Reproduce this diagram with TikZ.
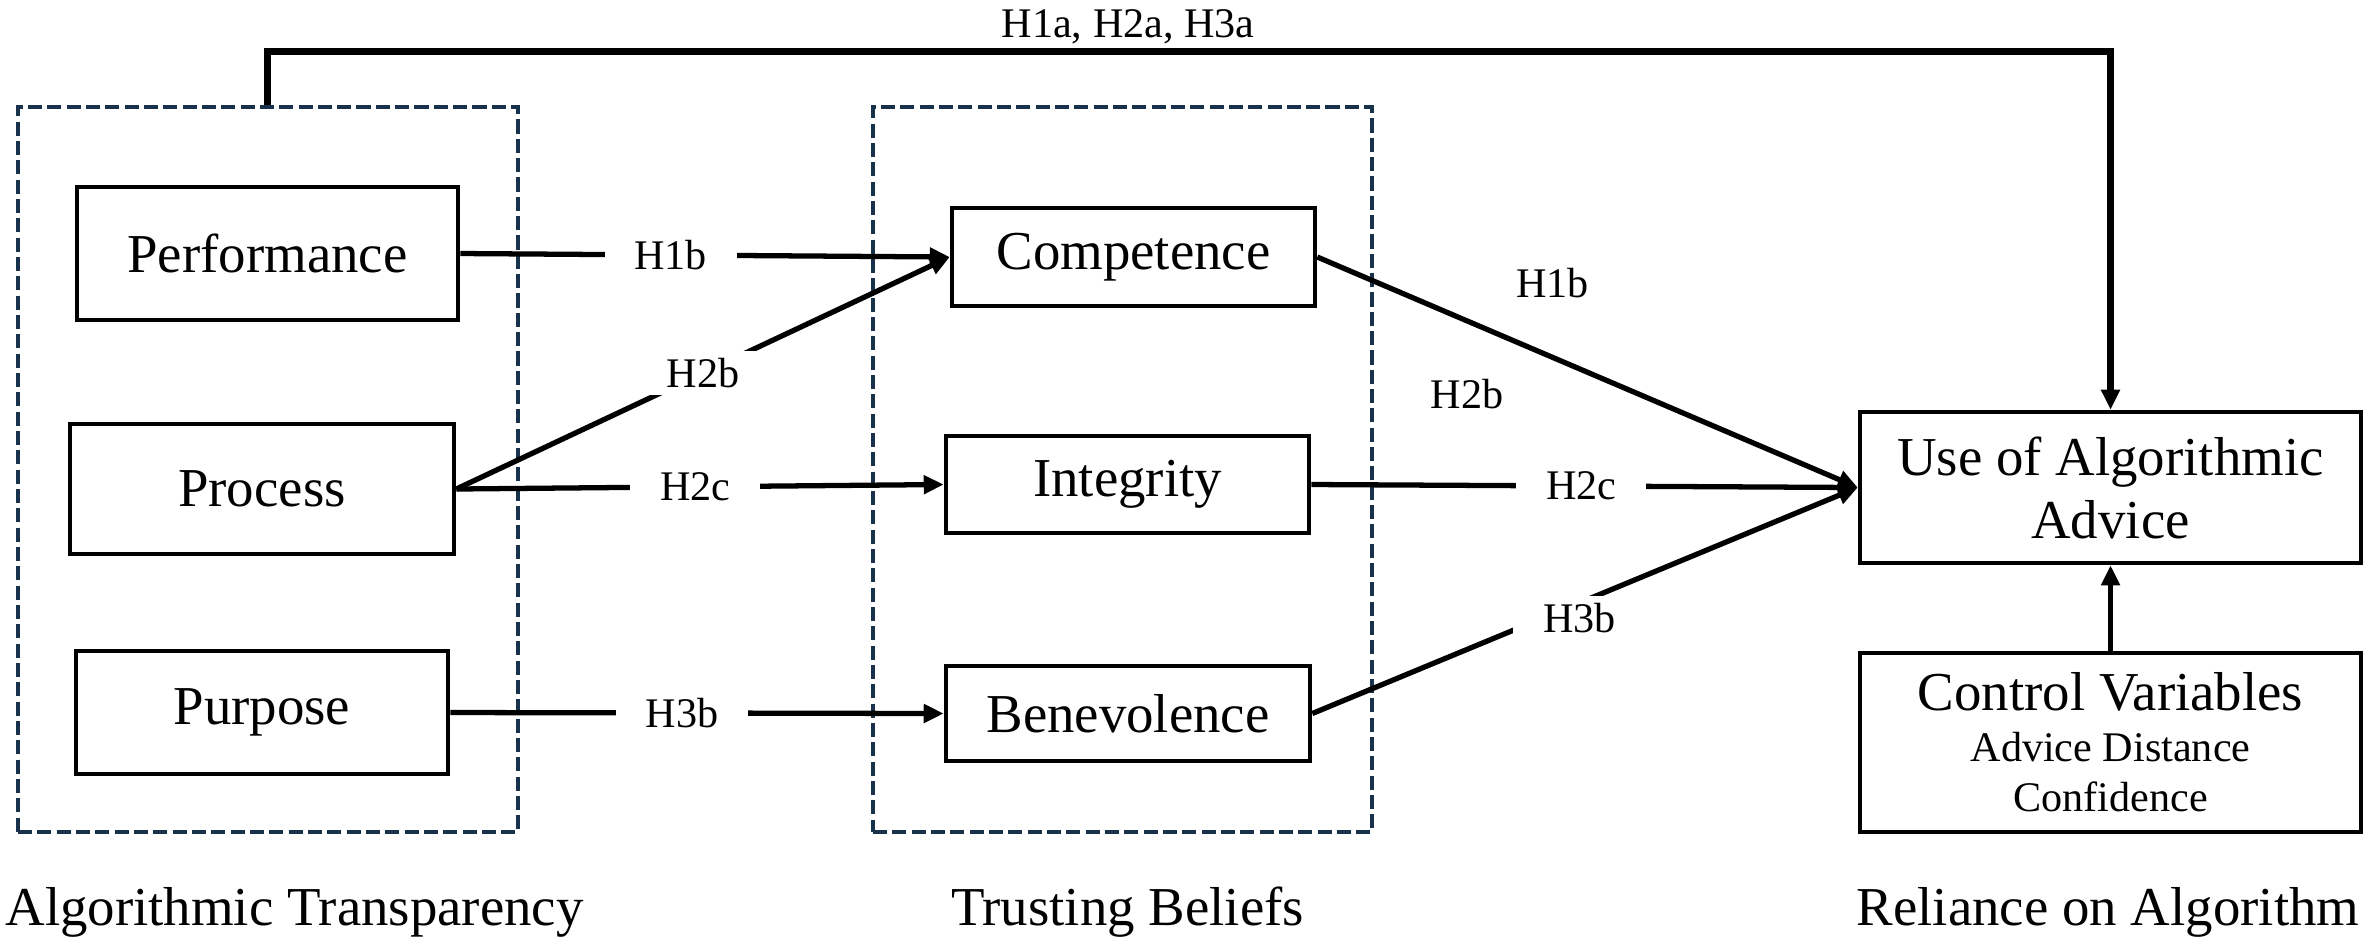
\documentclass[tikz,border=0pt]{standalone}
\usepackage{fontspec}
\setmainfont{Liberation Serif}
\usepackage{tikz}
\usetikzlibrary{arrows.meta}
\usetikzlibrary{positioning}
\definecolor{framenavy}{HTML}{17324A}

\begin{document}
\begin{tikzpicture}[line join=miter,>={Triangle[length=0.2cm,width=0.18cm]},
  box/.style={draw,line width=1.3pt,align=center,inner sep=2pt,font=\fontsize{15.6}{17.9}\selectfont},
  group/.style={draw=framenavy,line width=0.9pt,dash pattern=on 4pt off 1.5pt,minimum width=5cm,minimum height=7.25cm},
  lab/.style={fill=white,inner xsep=8.5pt,inner ysep=2pt,font=\fontsize{12}{14}\selectfont},
  grouptitle/.style={font=\fontsize{15.6}{18}\selectfont},
  link/.style={->,line width=1.5pt}]
\useasboundingbox (0,0) rectangle (23.68,-9.43);
\node[group] (transp) at (2.68,-4.695) {};
\node[group,minimum width=4.99cm] (trust) at (11.225,-4.695) {};
\node[box,minimum width=3.81cm,minimum height=1.33cm] (perf) at (2.675,-2.535) {Performance};
\node[box,minimum width=3.84cm,minimum height=1.30cm] (proc) at (2.62,-4.89) {Process};
\node[box,minimum width=3.72cm,minimum height=1.23cm] (purp) at (2.62,-7.125) {Purpose};
\node[box,minimum width=3.63cm,minimum height=0.98cm] (comp) at (11.335,-2.57) {Competence};
\node[box,minimum width=3.63cm,minimum height=0.97cm] (integ) at (11.275,-4.845) {Integrity};
\node[box,minimum width=3.64cm,minimum height=0.95cm] (benev) at (11.28,-7.135) {Benevolence};
\node[box,minimum width=5.01cm,minimum height=1.51cm] (use) at (21.105,-4.875) {Use of Algorithmic\\Advice};
\node[box,minimum width=5.01cm,minimum height=1.79cm] (ctrl) at (21.105,-7.425) {Control Variables\\[-3.5pt]{\fontsize{12}{14}\selectfont Advice Distance}\\[-3.6pt]{\fontsize{12}{14}\selectfont Confidence}};
\node[grouptitle] (transplab) at (2.945,-9.12) {Algorithmic Transparency};
\node[grouptitle] (trustlab) at (11.275,-9.12) {Trusting Beliefs};
\node[grouptitle] (relylab) at (21.08,-9.12) {Reliance on Algorithm};
\draw[link] (perf.east) -- node[lab,pos=0.43]{H1b} (comp.west);
\draw[link] (proc.east) -- node[lab]{H2b} (comp.west);
\draw[link] (proc.east) -- node[lab,pos=0.49]{H2c} (integ.west);
\draw[link] (purp.east) -- node[lab,pos=0.47]{H3b} (benev.west);
\draw[link] (comp.east) -- node[lab,fill=none,pos=0.435,yshift=0.74cm]{H1b} node[lab,fill=none,pos=0.277,yshift=-0.73cm]{H2b} (use.west);
\draw[link] (integ.east) -- node[lab,pos=0.494]{H2c} (use.west);
\draw[link] (benev.east) -- node[lab,pos=0.49,yshift=-0.15cm]{H3b} (use.west);
\draw[link] (ctrl) -- (use);
\draw[link,line width=1.8pt] (perf.north |- transp.north) -- ++(0,0.54) coordinate (bend) -- (bend -| use.north) node[pos=0.467,anchor=base,yshift=4pt,font=\fontsize{12}{14}\selectfont]{H1a, H2a, H3a} -- (use.north);
\end{tikzpicture}
\end{document}
